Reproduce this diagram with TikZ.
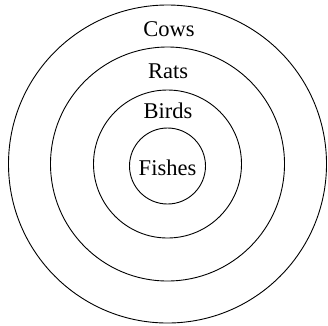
\documentclass[tikz,border=0pt]{standalone}
\usepackage{fontspec}
\setmainfont{Liberation Serif}
\begin{document}
\begin{tikzpicture}[x=1pt,y=-1pt,
  ring/.style={circle,draw=black,line width=0.9pt,inner sep=0pt},
  lbl/.style={anchor=base,font=\fontsize{22.5}{26}\selectfont,inner sep=0pt}]
\useasboundingbox (0,0) rectangle (328,325);
\coordinate (c) at (167.5,164);
\node[ring,minimum size=318pt] (cows) at (c) {};
\node[ring,minimum size=234pt] (rats) at (c) {};
\node[ring,minimum size=148pt] (birds) at (c) {};
\node[ring,minimum size=76pt] (fishes) at (167.5,166) {};
\node[lbl] (tcows) at (169,36) {Cows};
\node[lbl] (trats) at (168,78.5) {Rats};
\node[lbl] (tbirds) at (168,118.5) {Birds};
\node[lbl] (tfishes) at (167.5,175) {Fishes};
\end{tikzpicture}
\end{document}
